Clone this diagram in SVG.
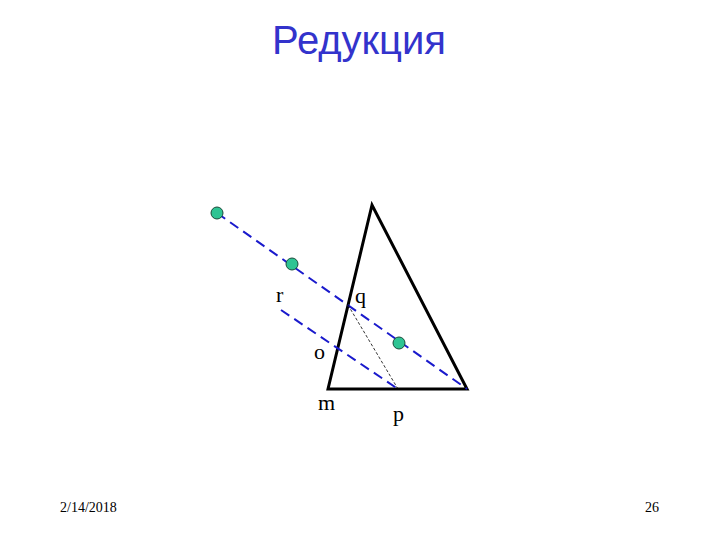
<svg xmlns="http://www.w3.org/2000/svg" width="720" height="540" viewBox="0 0 720 540">
<style>
.lbl{font-family:"Liberation Serif",serif;font-size:22px;fill:#000}
.foot{font-family:"Liberation Serif",serif;font-size:14px;fill:#000}
.ray{stroke:#1a1acc;stroke-width:2;stroke-dasharray:10,6;fill:none}
.dot{fill:#2ec493;stroke:#1a4a3a;stroke-width:1}
</style>
<rect width="720" height="540" fill="#fff"/>
<text x="359" y="54" text-anchor="middle" font-family="Liberation Sans,Arial,sans-serif" font-size="40" fill="#3333cc">Редукция</text>
<g id="triangle"><polygon points="372,205 328,389 467,389" fill="none" stroke="#000" stroke-width="3" stroke-linejoin="miter"/></g>
<g id="connectors">
<line class="ray" x1="217" y1="213" x2="467" y2="389"/>
<line class="ray" x1="281" y1="310" x2="398" y2="389"/>
<line x1="348" y1="305" x2="398" y2="389" stroke="#000" stroke-width="0.8" stroke-dasharray="3,2"/>
</g>
<g id="points">
<circle class="dot" cx="217" cy="213" r="6"/>
<circle class="dot" cx="292" cy="264" r="6"/>
<circle class="dot" cx="399" cy="343" r="6"/>
</g>
<g id="labels">
<text class="lbl" x="276" y="302">r</text>
<text class="lbl" x="355" y="303">q</text>
<text class="lbl" x="314" y="359">o</text>
<text class="lbl" x="318" y="410">m</text>
<text class="lbl" x="393" y="421">p</text>
</g>
<text class="foot" x="60" y="512">2/14/2018</text>
<text class="foot" x="645" y="512">26</text>
</svg>
